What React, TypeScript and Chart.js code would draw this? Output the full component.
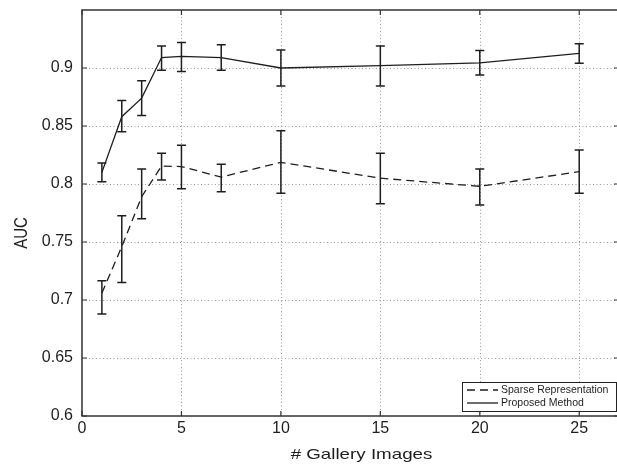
import React, { useEffect, useRef } from "react";
import { Chart, registerables } from "chart.js";

Chart.register(...registerables);

// ---- data ----
const galleryImages = [1, 2, 3, 4, 5, 7, 10, 15, 20, 25];

const sparseAUC = [0.706, 0.746, 0.789, 0.8155, 0.815, 0.806, 0.8187, 0.805, 0.798, 0.8106];
const sparseLow = [0.688, 0.715, 0.770, 0.8034, 0.796, 0.7933, 0.792, 0.783, 0.782, 0.792];
const sparseHigh = [0.7166, 0.7727, 0.813, 0.8265, 0.8333, 0.817, 0.846, 0.8265, 0.813, 0.8293];

const proposedAUC = [0.810, 0.858, 0.874, 0.909, 0.910, 0.909, 0.900, 0.902, 0.9045, 0.9126];
const proposedLow = [0.802, 0.845, 0.859, 0.898, 0.897, 0.898, 0.8845, 0.8845, 0.894, 0.904];
const proposedHigh = [0.818, 0.872, 0.889, 0.919, 0.922, 0.920, 0.9155, 0.919, 0.915, 0.921];

const xTicks = [0, 5, 10, 15, 20, 25];
const yTicks = [0.6, 0.65, 0.7, 0.75, 0.8, 0.85, 0.9];

const seriesNames = ["Sparse Representation", "Proposed Method"];
const xTitle = "# Gallery Images";
const yTitle = "AUC";

const errorBars = [
  { low: sparseLow, high: sparseHigh },
  { low: proposedLow, high: proposedHigh },
];
const seriesDash = [[8, 5], []];

const INK = "#1e1e1e";
const FONT = "'Liberation Sans', Arial, Helvetica, sans-serif";

const matlabPlugin = {
  id: "matlabFrame",
  beforeDatasetsDraw(chart: any) {
    const { ctx, chartArea: a, scales } = chart;
    const x = scales.x;
    const y = scales.y;
    ctx.save();
    ctx.strokeStyle = "#9a9a9a";
    ctx.lineWidth = 1;
    ctx.setLineDash([1, 2.5]);
    xTicks.forEach((v) => {
      if (v <= x.min || v >= x.max) return;
      const px = Math.round(x.getPixelForValue(v)) + 0.5;
      ctx.beginPath();
      ctx.moveTo(px, a.top);
      ctx.lineTo(px, a.bottom);
      ctx.stroke();
    });
    yTicks.forEach((v) => {
      if (v <= y.min || v >= y.max) return;
      const py = Math.round(y.getPixelForValue(v)) + 0.5;
      ctx.beginPath();
      ctx.moveTo(a.left, py);
      ctx.lineTo(a.right, py);
      ctx.stroke();
    });
    ctx.restore();
  },
  afterDatasetsDraw(chart: any) {
    const { ctx, chartArea: a, scales } = chart;
    const x = scales.x;
    const y = scales.y;
    ctx.save();
    // error bars
    ctx.strokeStyle = INK;
    ctx.lineWidth = 1.5;
    ctx.setLineDash([]);
    errorBars.forEach((eb) => {
      galleryImages.forEach((g, j) => {
        const px = x.getPixelForValue(g);
        const t = y.getPixelForValue(eb.high[j]);
        const b = y.getPixelForValue(eb.low[j]);
        const cap = 4.5;
        ctx.beginPath();
        ctx.moveTo(px, t);
        ctx.lineTo(px, b);
        ctx.moveTo(px - cap, t);
        ctx.lineTo(px + cap, t);
        ctx.moveTo(px - cap, b);
        ctx.lineTo(px + cap, b);
        ctx.stroke();
      });
    });

    // frame
    ctx.strokeStyle = "#333";
    ctx.lineWidth = 1.5;
    ctx.strokeRect(a.left, a.top, a.right - a.left, a.bottom - a.top);

    // inward tick marks
    const tl = 5;
    ctx.lineWidth = 1.2;
    ctx.beginPath();
    xTicks.forEach((v) => {
      const px = x.getPixelForValue(v);
      ctx.moveTo(px, a.bottom);
      ctx.lineTo(px, a.bottom - tl);
      ctx.moveTo(px, a.top);
      ctx.lineTo(px, a.top + tl);
    });
    yTicks.forEach((v) => {
      const py = y.getPixelForValue(v);
      ctx.moveTo(a.left, py);
      ctx.lineTo(a.left + tl, py);
      ctx.moveTo(a.right, py);
      ctx.lineTo(a.right - tl, py);
    });
    ctx.stroke();

    // legend
    const lw = 154;
    const lh = 29;
    const lx = a.right - 3 - lw;
    const ly = a.bottom - 5 - lh;
    ctx.fillStyle = "#fff";
    ctx.fillRect(lx, ly, lw, lh);
    ctx.strokeStyle = "#222";
    ctx.lineWidth = 1;
    ctx.strokeRect(lx + 0.5, ly + 0.5, lw, lh);
    ctx.font = `10.5px ${FONT}`;
    ctx.textBaseline = "middle";
    ctx.textAlign = "left";
    seriesNames.forEach((name, i) => {
      const ry = ly + 8 + i * 13;
      ctx.strokeStyle = INK;
      ctx.lineWidth = 1.3;
      ctx.setLineDash(seriesDash[i]);
      ctx.beginPath();
      ctx.moveTo(lx + 5, ry);
      ctx.lineTo(lx + 36, ry);
      ctx.stroke();
      ctx.setLineDash([]);
      ctx.fillStyle = INK;
      ctx.fillText(name, lx + 39, ry);
    });

    // axis titles
    ctx.fillStyle = INK;
    ctx.font = `15px ${FONT}`;
    ctx.textAlign = "center";
    ctx.textBaseline = "middle";
    ctx.save();
    ctx.translate((a.left + a.right) / 2 + 11, a.bottom + 39);
    ctx.scale(1.25, 1);
    ctx.fillText(xTitle, 0, 0);
    ctx.restore();

    ctx.save();
    ctx.translate(22, (a.top + a.bottom) / 2 + 20);
    ctx.rotate(-Math.PI / 2);
    ctx.scale(1, 1.25);
    ctx.fillText(yTitle, 0, 0);
    ctx.restore();

    ctx.restore();
  },
};

export default function App() {
  const ref = useRef<HTMLCanvasElement | null>(null);

  useEffect(() => {
    if (!ref.current) return;
    const chart = new Chart(ref.current, {
      type: "line",
      data: {
        datasets: [
          {
            label: seriesNames[0],
            data: galleryImages.map((g, i) => ({ x: g, y: sparseAUC[i] })),
            borderColor: INK,
            borderWidth: 1.3,
            borderDash: seriesDash[0],
            pointRadius: 0,
            tension: 0,
            fill: false,
          },
          {
            label: seriesNames[1],
            data: galleryImages.map((g, i) => ({ x: g, y: proposedAUC[i] })),
            borderColor: INK,
            borderWidth: 1.3,
            pointRadius: 0,
            tension: 0,
            fill: false,
          },
        ],
      },
      options: {
        animation: false,
        responsive: false,
        devicePixelRatio: 1,
        layout: { padding: { top: 10, right: 6, left: 0, bottom: 0 } },
        plugins: {
          legend: { display: false },
          tooltip: { enabled: false },
        },
        scales: {
          x: {
            type: "linear",
            min: 0,
            max: 27,
            grid: { display: false, drawTicks: false },
            border: { display: false },
            afterBuildTicks: (s: any) => {
              s.ticks = xTicks.map((v) => ({ value: v }));
            },
            afterFit: (s: any) => {
              s.height = 50;
              s.paddingLeft = 0;
              s.paddingRight = 0;
            },
            ticks: {
              color: INK,
              padding: 3,
              maxRotation: 0,
              font: { family: FONT, size: 16 },
              callback: (v: any) => String(v),
            },
          },
          y: {
            type: "linear",
            min: 0.6,
            max: 0.95,
            grid: { display: false, drawTicks: false },
            border: { display: false },
            afterBuildTicks: (s: any) => {
              s.ticks = yTicks.map((v) => ({ value: v }));
            },
            afterFit: (s: any) => {
              s.width = 82;
              s.paddingTop = 0;
              s.paddingBottom = 0;
            },
            ticks: {
              color: INK,
              padding: 9,
              font: { family: FONT, size: 16 },
              callback: (v: any) => String(+Number(v).toFixed(2)),
            },
          },
        },
      },
      plugins: [matlabPlugin],
    } as any);
    return () => chart.destroy();
  }, []);

  return (
    <div
      style={{
        position: "fixed",
        left: 0,
        top: 0,
        width: 617,
        height: 466,
        overflow: "hidden",
        background: "#fff",
      }}
    >
      <canvas
        ref={ref}
        width={625}
        height={466}
        style={{ display: "block", width: 625, height: 466 }}
      />
    </div>
  );
}
